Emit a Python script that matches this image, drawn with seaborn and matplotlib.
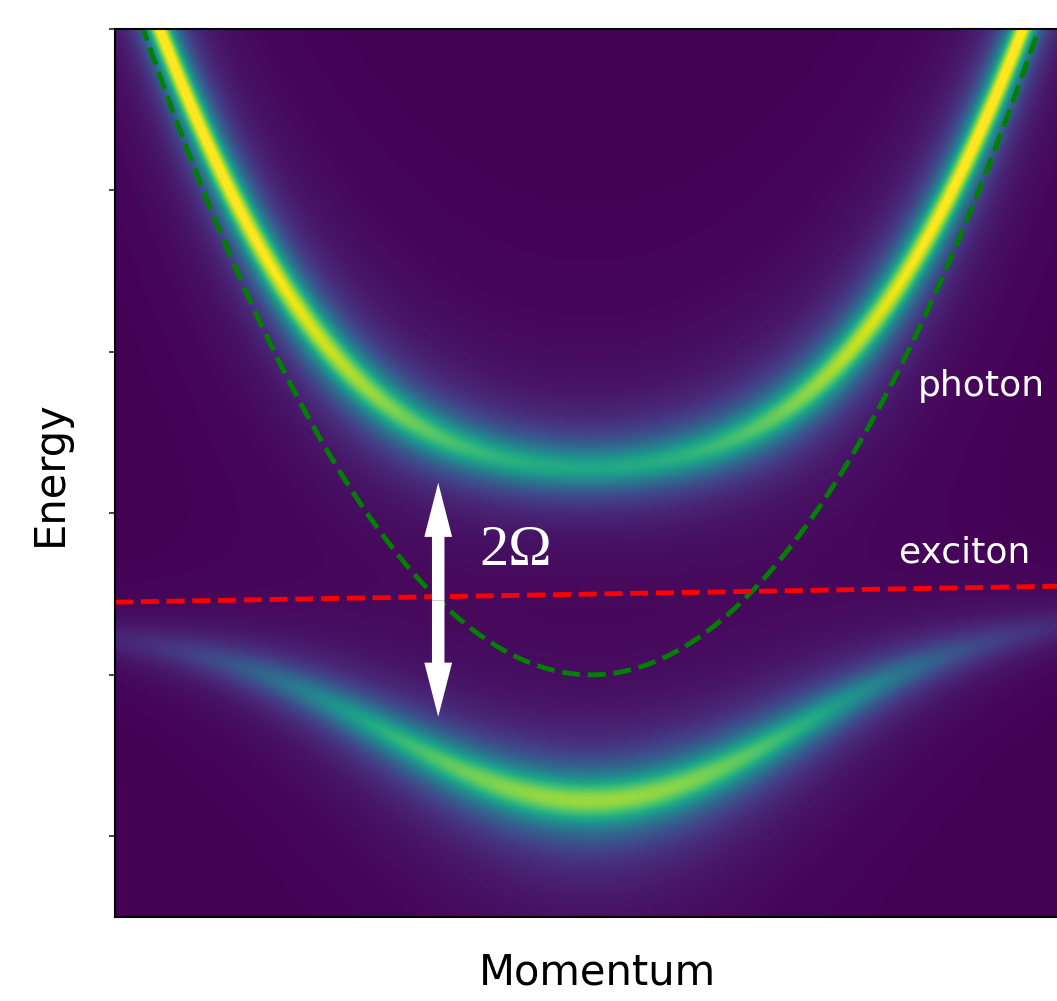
import numpy as np
import matplotlib
matplotlib.use("Agg")
import matplotlib.pyplot as plt
import seaborn as sns

# values (momentum -1..1, energy in tick units)
momentum_range = [-1.0, 1.0]
energy_range = [-0.5, 5.0]
energy_ticks = [0, 1, 2, 3, 4, 5]
photon_e0 = 1.0           # photon energy at k = 0
photon_curvature = 4.52   # photon rise per k^2
exciton_ends = [1.45, 1.55]  # exciton energy at k = -1 and k = +1
rabi = 1.0                # coupling Omega
gamma_photon = 0.2
gamma_exciton = 0.11

sns.set_style("ticks")
plt.rcParams['font.family'] = ['DejaVu Sans']

k = np.linspace(momentum_range[0], momentum_range[1], 900)
E = np.linspace(energy_range[0], energy_range[1], 900)
K, EE = np.meshgrid(k, E)


def photon(q):
    return photon_e0 + photon_curvature * q ** 2


def exciton(q):
    return exciton_ends[0] + (exciton_ends[1] - exciton_ends[0]) * (q + 1) / 2


# photon spectral function of the coupled photon-exciton system
G = 1.0 / (EE - photon(K) + 1j * gamma_photon
           - rabi ** 2 / (EE - exciton(K) + 1j * gamma_exciton))
A = -G.imag
A = A / A.max()

fig = plt.figure(figsize=(10.57, 10.01), dpi=100)
ax = fig.add_axes([0.1088, 0.0839, 0.9007, 0.8871])

ax.imshow(A, origin='lower', aspect='auto', cmap=sns.color_palette("viridis", as_cmap=True),
          extent=[momentum_range[0], momentum_range[1], energy_range[0], energy_range[1]],
          vmin=0, vmax=0.92, interpolation='bilinear')

sns.lineplot(x=k, y=photon(k), color='green', linestyle='--', lw=3.5, ax=ax)
sns.lineplot(x=k, y=exciton(k), color='red', linestyle='--', lw=3.5, ax=ax)

# 2 Omega arrow
k_arrow = -0.321
mid = 1.46
for tip in (2.19, 0.74):
    ax.annotate('', xy=(k_arrow, tip), xytext=(k_arrow, mid),
                arrowprops=dict(arrowstyle='simple,head_length=3.9,head_width=2.0,tail_width=0.9',
                                color='white', lw=0, shrinkA=0, shrinkB=0, mutation_scale=10))

ax.text(-0.158, 1.77, '2Ω', color='white', fontsize=42, family='Liberation Serif',
        ha='center', va='center')
ax.text(0.819, 2.79, 'photon', color='white', fontsize=26, ha='center', va='center')
ax.text(0.786, 1.76, 'exciton', color='white', fontsize=26, ha='center', va='center')

ax.set_xlim(momentum_range)
ax.set_ylim(energy_range)
ax.set_yticks(energy_ticks)
ax.set_xticks([])
ax.tick_params(axis='y', left=True, labelleft=False, length=4, width=1.2, direction='out')
for s in ax.spines.values():
    s.set_linewidth(1.5)
    s.set_color('black')

ax.set_xlabel('Momentum', fontsize=30, color='black')
ax.set_ylabel('Energy', fontsize=30, color='black')
ax.xaxis.set_label_coords(0.507, -0.039)
ax.yaxis.set_label_coords(-0.046, 0.5)

fig.savefig('out.png', dpi=100)
